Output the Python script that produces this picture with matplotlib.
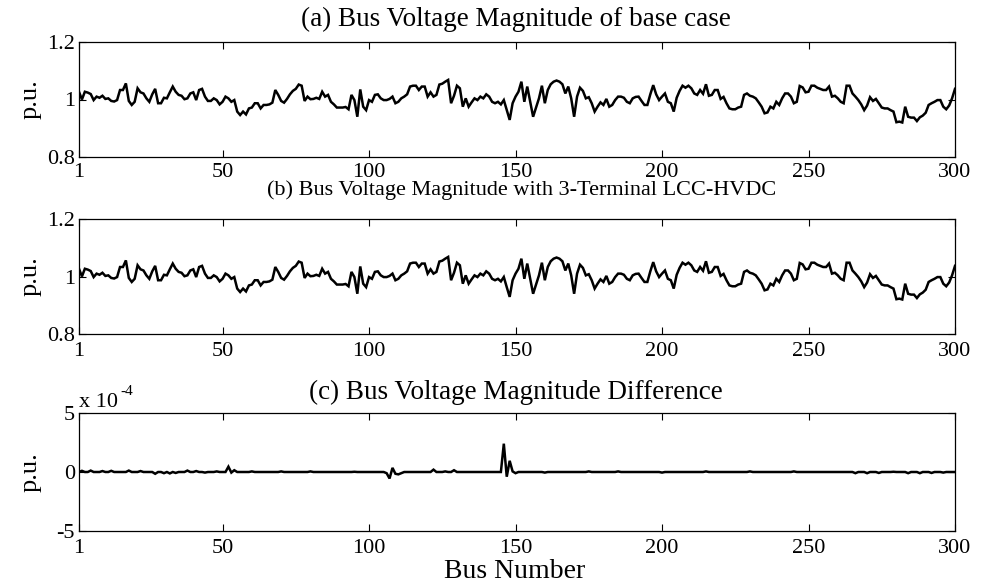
import matplotlib
matplotlib.use('Agg')
import matplotlib.pyplot as plt
import numpy as np

plt.rcParams['font.family'] = ['Liberation Serif', 'DejaVu Serif']
plt.rcParams['font.size'] = 16

# ---------------- data ----------------
bus_numbers = list(range(1, 301))

volt_base = [
    1.027, 1.000, 1.027, 1.024, 1.019, 0.998, 1.010, 1.006, 1.013, 1.002,
    1.004, 0.995, 0.993, 0.998, 1.033, 1.033, 1.056, 0.995, 0.981, 0.992,
    1.039, 1.025, 1.021, 1.004, 0.992, 1.018, 1.037, 0.987, 0.987, 1.006,
    1.004, 1.025, 1.045, 1.027, 1.016, 1.013, 1.001, 1.004, 1.021, 1.025,
    0.998, 1.033, 1.037, 1.010, 0.995, 0.995, 1.004, 0.998, 0.983, 0.992,
    1.010, 1.004, 0.992, 0.998, 0.958, 0.946, 0.958, 0.948, 0.969, 0.972,
    0.987,
    0.987, 0.969, 0.981, 0.981, 0.983, 0.989, 1.033, 1.016, 0.995, 0.989,
    1.002, 1.018, 1.030, 1.037, 1.052, 1.048, 0.995, 1.010, 1.001, 1.002,
    1.006, 1.002, 1.027, 1.010, 1.016, 0.992, 0.983, 0.972, 0.972, 0.972,
    0.974, 0.966, 1.016, 0.998, 0.940, 1.035, 0.975, 0.963, 0.998, 0.992,
    1.016, 1.018, 1.004, 0.998, 0.998, 1.002, 1.010, 0.987, 0.992, 1.004,
    1.010, 1.018, 1.045, 1.048, 1.048, 1.033, 1.045, 1.045, 1.010,
    1.025, 1.010, 1.016, 1.052, 1.055, 1.062, 1.068, 0.987, 1.013, 1.048,
    1.039, 0.975, 1.004, 0.975, 0.990, 1.004, 0.998, 1.010, 1.004, 1.018,
    1.010, 0.992, 0.987, 0.992, 0.983, 0.998, 0.963, 0.929, 0.987, 1.010,
    1.027, 1.062, 0.992, 1.045, 0.992, 0.940, 0.972, 1.004, 1.048, 0.987,
    1.033, 1.053, 1.062, 1.066, 1.062, 1.053, 1.021, 1.045, 1.004, 0.940,
    1.010, 1.041, 1.030, 1.004, 1.008, 0.987, 0.958, 0.975, 0.990,
    0.981, 1.002, 0.975, 0.981, 0.998, 1.010, 1.010, 1.006, 0.992, 0.987,
    1.004, 1.009, 1.010, 0.995, 0.981, 0.981, 1.018, 1.050, 1.018, 0.998,
    1.010, 1.021, 0.992, 0.987, 0.958, 1.006, 1.030, 1.048, 1.041, 1.048,
    1.039, 1.021, 1.016, 1.033, 1.020, 1.053, 1.013, 1.016, 1.033, 1.033,
    1.002, 1.009, 0.987, 0.969, 0.966, 0.966, 0.972, 0.975, 1.016, 1.021,
    1.013, 1.010, 1.004, 0.990, 0.975, 0.952, 0.955, 0.975, 0.969, 0.992,
    0.981,
    1.004, 1.021, 1.021, 1.010, 0.987, 0.992, 1.047, 1.042, 1.025, 1.027,
    1.048, 1.048, 1.041, 1.037, 1.033, 1.033, 1.045, 1.010, 1.013, 1.004,
    0.992, 0.987, 1.048, 1.048, 1.021, 1.010, 0.998, 0.983, 0.963, 0.979,
    1.008, 0.995, 1.002, 0.987, 0.972, 0.969, 0.969, 0.963, 0.958, 0.921,
    0.923, 0.920, 0.975, 0.940, 0.937, 0.937, 0.925, 0.938, 0.944, 0.954,
    0.981, 0.987, 0.992, 0.998, 0.998, 0.975, 0.966, 0.979, 1.004, 1.037,
]

# non-zero voltage differences (in units of 1e-4 p.u.)
diff_bus = [2, 5, 9, 12, 18, 22, 27, 30, 32, 34, 38, 41, 44, 48, 52, 53, 54, 60,
            70, 80, 95, 106, 107, 108, 109, 110, 111, 122, 126, 129, 146, 147,
            148, 149, 150, 160, 175, 185, 200, 215, 230, 245, 266, 270, 274,
            279, 284, 288, 292, 296]
diff_val = [0.1, 0.12, 0.08, 0.1, 0.12, 0.08, -0.15, -0.1, -0.12, -0.08, 0.12, 0.08,
            -0.05, 0.05, 0.45, -0.05, 0.15, 0.05, 0.05, 0.05, 0.02, -0.1, -0.55,
            0.35, -0.15, -0.2, -0.1, 0.2, 0.05, 0.15, 2.4, -0.4, 0.95, 0.05,
            -0.1, -0.05, 0.05, 0.05, -0.05, 0.05, 0.05, 0.05, -0.1, -0.1, -0.08,
            0.02, -0.1, -0.1, -0.08, -0.05]

x_ticks = [1, 50, 100, 150, 200, 250, 300]
titles = ['(a) Bus Voltage Magnitude of base case',
          '(b) Bus Voltage Magnitude with 3-Terminal LCC-HVDC',
          '(c) Bus Voltage Magnitude Difference']

# ---------------- derived series ----------------
diff = np.zeros(len(bus_numbers))
for b, v in zip(diff_bus, diff_val):
    diff[b - 1] = v * 1e-4
volt_hvdc = np.array(volt_base) + diff

# ---------------- figure ----------------
W, H = 982, 584
fig = plt.figure(figsize=(W / 100, H / 100), dpi=100)


def axrect(l, t, r, b):
    return [l / W, 1 - b / H, (r - l) / W, (b - t) / H]


axa = fig.add_axes(axrect(79, 42, 955, 157))
axb = fig.add_axes(axrect(79, 219, 955, 334))
axc = fig.add_axes(axrect(79, 413, 955, 531))

for ax, y, xpad in [(axa, volt_base, 4), (axb, volt_hvdc, 5.5), (axc, diff, 6)]:
    ax.plot(bus_numbers, y, color='k', lw=1.8, solid_joinstyle='miter')
    ax.set_xlim(1, 300)
    ax.set_xticks(x_ticks)
    ax.set_xticklabels([str(t) for t in x_ticks])
    ax.tick_params(direction='in', top=True, right=True, length=5, width=0.8,
                   labelsize=16)
    ax.tick_params(axis='x', pad=xpad)
    ax.tick_params(axis='y', pad=3)
    for s in ax.spines.values():
        s.set_linewidth(0.9)

for ax in (axa, axb):
    ax.set_ylim(0.8, 1.2)
    ax.set_yticks([0.8, 1.0, 1.2])
    ax.set_yticklabels(['0.8', '1', '1.2'])

axc.set_ylim(-5e-4, 5e-4)
axc.set_yticks([-5e-4, 0, 5e-4])
axc.set_yticklabels(['-5', '0', '5'])

# titles
title_specs = [(516, 19, 19.5), (522, 190, 16), (516, 392, 19.5)]
for t, (xc, yc, fs) in zip(titles, title_specs):
    fig.text(xc / W, 1 - yc / H, t, ha='center', va='center', fontsize=fs)

# y labels
for yc in [99.5, 276.5, 472]:
    fig.text(31 / W, 1 - yc / H, 'p.u.', rotation=90, ha='center',
             va='center', fontsize=19)

# exponent label
fig.text(79 / W, 1 - 407 / H, 'x 10', ha='left', va='baseline', fontsize=16)
fig.text(120 / W, 1 - 395 / H, '-4', ha='left', va='baseline', fontsize=11)

# x label
fig.text(515 / W, 1 - 572 / H, 'Bus Number', ha='center', va='center',
         fontsize=20)

fig.savefig('out.png', dpi=100)
